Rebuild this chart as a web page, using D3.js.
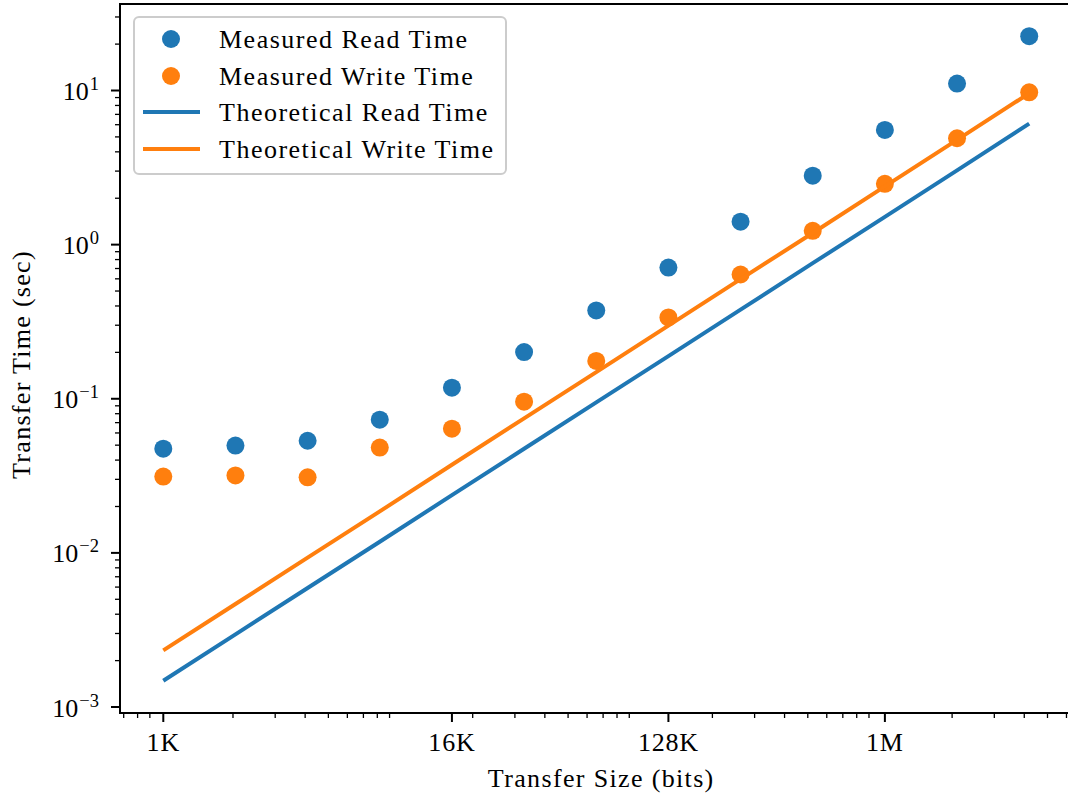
<!DOCTYPE html>
<html>
<head>
<meta charset="utf-8">
<script src="https://cdn.jsdelivr.net/npm/d3@7"></script>
<style>
  html, body { margin: 0; padding: 0; background: #fff; }
  svg { display: block; }
  text { font-family: "Liberation Serif", "Times New Roman", serif; fill: #000; }
</style>
</head>
<body>
<svg id="chart" width="1068" height="798"></svg>
<script>
// ---- data ----
const sizes = [1024, 2048, 4096, 8192, 16384, 32768, 65536, 131072, 262144, 524288, 1048576, 2097152, 4194304];
const measuredRead  = [0.0474, 0.0497, 0.0534, 0.0731, 0.118, 0.201, 0.374, 0.710, 1.41, 2.80, 5.55, 11.1, 22.5];
const measuredWrite = [0.0313, 0.0318, 0.0309, 0.0482, 0.0640, 0.0957, 0.176, 0.337, 0.640, 1.23, 2.48, 4.90, 9.74];
const theoreticalRead  = [0.00148, 0.00296, 0.00592, 0.0118, 0.0237, 0.0474, 0.0947, 0.189, 0.379, 0.758, 1.515, 3.03, 6.10];
const theoreticalWrite = [0.00233, 0.00466, 0.00932, 0.0186, 0.0373, 0.0746, 0.149, 0.298, 0.597, 1.19, 2.39, 4.78, 9.60];
const xTickValues = [1024, 16384, 131072, 1048576];
const xTickLabels = ["1K", "16K", "128K", "1M"];
const yTickExponents = [-3, -2, -1, 0, 1];
const seriesNames = ["Measured Read Time", "Measured Write Time", "Theoretical Read Time", "Theoretical Write Time"];
const blue = "#1f77b4", orange = "#ff7f0e";

// ---- layout ----
const pLeft = 120, pRight = 1072.5, pTop = 4, pBottom = 713;
const svg = d3.select("#chart");

// x scale: log2, with 5% margins in log space
const lx0 = Math.log2(d3.min(sizes)), lx1 = Math.log2(d3.max(sizes));
const padX = (lx1 - lx0) * 0.05;
const x = d3.scaleLog().base(2).domain([Math.pow(2, lx0 - padX), Math.pow(2, lx1 + padX)]).range([pLeft, pRight]);

const allY = measuredRead.concat(measuredWrite, theoreticalRead, theoreticalWrite);
const ly0 = Math.log10(d3.min(allY)), ly1 = Math.log10(d3.max(allY));
const padY = (ly1 - ly0) * 0.05;
const y = d3.scaleLog().domain([Math.pow(10, ly0 - padY), Math.pow(10, ly1 + padY)]).range([pBottom, pTop]);

svg.append("clipPath").attr("id", "clip").append("rect")
  .attr("x", pLeft).attr("y", pTop).attr("width", pRight - pLeft).attr("height", pBottom - pTop);
const dataG = svg.append("g").attr("clip-path", "url(#clip)");

// scatter (zorder below lines)
function scatter(vals, color) {
  dataG.append("g").selectAll("circle").data(sizes).join("circle")
    .attr("cx", d => x(d)).attr("cy", (d, i) => y(vals[i])).attr("r", 9).attr("fill", color);
}
scatter(measuredRead, blue);
scatter(measuredWrite, orange);

function drawLine(vals, color) {
  const gen = d3.line().x(d => x(d)).y((d, i) => y(vals[i]));
  dataG.append("path").datum(sizes).attr("d", gen).attr("fill", "none")
    .attr("stroke", color).attr("stroke-width", 4).attr("stroke-linecap", "butt");
}
drawLine(theoreticalRead, blue);
drawLine(theoreticalWrite, orange);

// ---- axes ----
const axes = svg.append("g");
const [xd0, xd1] = x.domain();
const xMinor = [];
for (let n = 2; n <= 7; n++) for (let m = 2; m <= 9; m++) {
  const v = m * Math.pow(10, n);
  if (v >= xd0 && v <= xd1) xMinor.push(v);
}
axes.selectAll(".xminor").data(xMinor).join("line")
  .attr("x1", d => x(d)).attr("x2", d => x(d)).attr("y1", pBottom).attr("y2", pBottom + 5)
  .attr("stroke", "#000").attr("stroke-width", 1.3);
axes.selectAll(".xmajor").data(xTickValues).join("line")
  .attr("x1", d => x(d)).attr("x2", d => x(d)).attr("y1", pBottom).attr("y2", pBottom + 9)
  .attr("stroke", "#000").attr("stroke-width", 2);
axes.selectAll(".xlab").data(xTickValues).join("text")
  .attr("x", d => x(d)).attr("y", 751).attr("text-anchor", "middle")
  .attr("font-size", 26).attr("letter-spacing", 0.8)
  .text((d, i) => xTickLabels[i]);

const [yd0, yd1] = y.domain();
const yMinor = [];
for (let n = -4; n <= 2; n++) for (let m = 2; m <= 9; m++) {
  const v = m * Math.pow(10, n);
  if (v >= yd0 && v <= yd1) yMinor.push(v);
}
axes.selectAll(".yminor").data(yMinor).join("line")
  .attr("x1", pLeft - 5).attr("x2", pLeft).attr("y1", d => y(d)).attr("y2", d => y(d))
  .attr("stroke", "#000").attr("stroke-width", 1.3);
axes.selectAll(".ymajor").data(yTickExponents).join("line")
  .attr("x1", pLeft - 9).attr("x2", pLeft).attr("y1", d => y(Math.pow(10, d))).attr("y2", d => y(Math.pow(10, d)))
  .attr("stroke", "#000").attr("stroke-width", 2);
const ylab = axes.selectAll(".ylab").data(yTickExponents).join("text")
  .attr("x", 99).attr("y", d => y(Math.pow(10, d)) + 9.5).attr("text-anchor", "end")
  .attr("font-size", 26);
ylab.append("tspan").text("10");
ylab.append("tspan").attr("dy", -10).attr("font-size", 18.5).attr("dx", 1)
  .text(d => d < 0 ? "\u2212" + Math.abs(d) : String(d));

// spines
axes.append("path")
  .attr("d", `M${pLeft},${pTop}L${pRight},${pTop}L${pRight},${pBottom}L${pLeft},${pBottom}Z`)
  .attr("fill", "none").attr("stroke", "#000").attr("stroke-width", 2);

// axis labels
svg.append("text").attr("x", (pLeft + pRight) / 2 + 5).attr("y", 787).attr("text-anchor", "middle")
  .attr("font-size", 26).attr("letter-spacing", 1.35).text("Transfer Size (bits)");
svg.append("text").attr("transform", `translate(30,${(pTop + pBottom) / 2 + 6}) rotate(-90)`)
  .attr("text-anchor", "middle").attr("font-size", 26).attr("letter-spacing", 1.3).text("Transfer Time (sec)");

// ---- legend ----
const lg = svg.append("g");
lg.append("rect").attr("x", 134).attr("y", 17).attr("width", 372).attr("height", 157)
  .attr("rx", 5).attr("fill", "#fff").attr("fill-opacity", 0.8)
  .attr("stroke", "#cccccc").attr("stroke-width", 2);
const rowY = [39, 76, 112, 149];
const kinds = ["dot", "dot", "line", "line"];
const colors = [blue, orange, blue, orange];
seriesNames.forEach((name, i) => {
  if (kinds[i] === "dot") {
    lg.append("circle").attr("cx", 171).attr("cy", rowY[i]).attr("r", 9).attr("fill", colors[i]);
  } else {
    lg.append("line").attr("x1", 143).attr("x2", 200).attr("y1", rowY[i]).attr("y2", rowY[i])
      .attr("stroke", colors[i]).attr("stroke-width", 4);
  }
  lg.append("text").attr("x", 219).attr("y", rowY[i] + 9).attr("font-size", 26)
    .attr("letter-spacing", 1.5).text(name);
});
</script>
</body>
</html>
